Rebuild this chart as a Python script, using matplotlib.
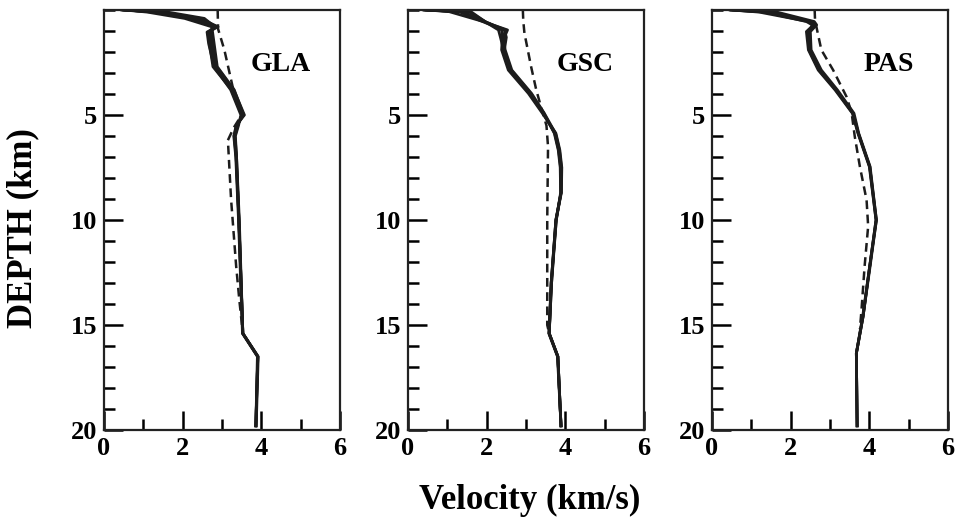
#!/usr/bin/env python
import numpy as np
import matplotlib
matplotlib.use('Agg')
from matplotlib import pyplot as plt
from matplotlib.ticker import MultipleLocator

# ---- GLA ----
gla_depth = [0, 0.1, 0.4, 0.8, 1.05, 1.6, 2.7, 3.8, 5.0, 5.5, 6.0, 7.0, 10.0, 15.4, 16.5, 19.8]
gla_v_a = [0.48, 1.50, 2.35, 2.87, 2.68, 2.72, 2.81, 3.27, 3.54, 3.38, 3.32, 3.36, 3.43, 3.53, 3.91, 3.86]
gla_v_b = [0.45, 1.62, 2.55, 2.82, 2.64, 2.68, 2.77, 3.24, 3.50, 3.40, 3.33, 3.37, 3.43, 3.53, 3.91, 3.86]
gla_v_c = [0.55, 1.25, 2.20, 2.78, 2.72, 2.76, 2.86, 3.30, 3.57, 3.36, 3.30, 3.35, 3.42, 3.52, 3.90, 3.86]
gla_v_d = [0.50, 1.40, 2.45, 2.90, 2.62, 2.66, 2.80, 3.22, 3.48, 3.42, 3.34, 3.37, 3.44, 3.53, 3.92, 3.87]
gla_v_e = [0.52, 1.10, 2.05, 2.74, 2.76, 2.80, 2.88, 3.31, 3.55, 3.37, 3.31, 3.36, 3.43, 3.53, 3.91, 3.86]
gla_start_depth = [0, 0.9, 1.9, 3.65, 5.0, 5.6, 6.2, 9.0, 12.2, 13.8, 15.4]
gla_start_v = [2.89, 2.90, 3.06, 3.27, 3.50, 3.30, 3.15, 3.23, 3.36, 3.44, 3.53]

# ---- GSC ----
gsc_depth = [0, 0.08, 0.63, 0.95, 1.3, 1.9, 2.86, 3.97, 4.9, 5.87, 6.67, 7.5, 8.7, 10.0, 13.0, 15.4, 16.5, 19.8]
gsc_v_a = [0.42, 1.55, 2.03, 2.53, 2.45, 2.41, 2.58, 3.09, 3.43, 3.74, 3.84, 3.89, 3.89, 3.76, 3.64, 3.59, 3.81, 3.89]
gsc_v_b = [0.45, 1.30, 2.00, 2.45, 2.50, 2.45, 2.62, 3.12, 3.45, 3.72, 3.82, 3.87, 3.88, 3.77, 3.65, 3.59, 3.81, 3.89]
gsc_v_c = [0.50, 1.05, 2.06, 2.38, 2.40, 2.38, 2.55, 3.06, 3.41, 3.76, 3.86, 3.91, 3.90, 3.76, 3.64, 3.58, 3.80, 3.89]
gsc_v_d = [0.40, 1.60, 2.02, 2.30, 2.35, 2.43, 2.60, 3.10, 3.44, 3.73, 3.83, 3.88, 3.89, 3.77, 3.64, 3.59, 3.81, 3.89]
gsc_v_e = [0.47, 1.40, 2.05, 2.48, 2.42, 2.47, 2.64, 3.14, 3.46, 3.75, 3.85, 3.90, 3.89, 3.76, 3.65, 3.59, 3.81, 3.89]
gsc_start_depth = [0, 0.5, 1.1, 2.7, 3.8, 4.6, 5.5, 6.5, 10.0, 15.0, 15.4]
gsc_start_v = [2.92, 2.93, 2.96, 3.13, 3.26, 3.38, 3.52, 3.56, 3.54, 3.54, 3.59]

# ---- PAS ----
pas_depth = [0, 0.1, 0.55, 0.71, 1.03, 1.9, 2.86, 3.81, 4.92, 5.87, 7.46, 10.0, 12.2, 14.6, 16.35, 19.8]
pas_v_a = [0.46, 1.50, 2.53, 2.62, 2.45, 2.49, 2.74, 3.16, 3.59, 3.72, 4.01, 4.18, 4.01, 3.84, 3.67, 3.69]
pas_v_b = [0.50, 1.20, 2.45, 2.58, 2.40, 2.45, 2.70, 3.13, 3.57, 3.71, 4.00, 4.17, 4.01, 3.84, 3.67, 3.69]
pas_v_c = [0.55, 1.65, 2.60, 2.66, 2.50, 2.52, 2.78, 3.19, 3.61, 3.73, 4.02, 4.18, 4.02, 3.84, 3.67, 3.69]
pas_v_d = [0.48, 1.35, 2.40, 2.55, 2.47, 2.47, 2.72, 3.15, 3.58, 3.72, 4.01, 4.17, 4.01, 3.83, 3.67, 3.69]
pas_start_depth = [0, 0.5, 1.9, 2.86, 4.13, 4.9, 6.03, 7.46, 9.05, 10.3, 12.2, 14.3, 15.2]
pas_start_v = [2.61, 2.62, 2.78, 3.08, 3.42, 3.55, 3.63, 3.76, 3.93, 3.97, 3.88, 3.80, 3.76]

stations = ['GLA', 'GSC', 'PAS']

panels = [
   (gla_depth, [gla_v_a, gla_v_b, gla_v_c, gla_v_d, gla_v_e], gla_start_depth, gla_start_v),
   (gsc_depth, [gsc_v_a, gsc_v_b, gsc_v_c, gsc_v_d, gsc_v_e], gsc_start_depth, gsc_start_v),
   (pas_depth, [pas_v_a, pas_v_b, pas_v_c, pas_v_d], pas_start_depth, pas_start_v),
]

lefts = [104, 408, 712]


def main():
   plt.rcParams['font.family'] = ['Liberation Serif', 'DejaVu Serif']
   plt.rcParams['font.weight'] = 'bold'

   W, H = 959, 523
   fig = plt.figure(figsize=(W/100., H/100.), dpi=100)

   for i, (depth, models, sdepth, sv) in enumerate(panels):
      ax = fig.add_axes([lefts[i]/W, 1 - 430./H, 236./W, 420./H])
      for v in models:
         ax.plot(v, depth, color='#1c1c1c', lw=2.0, solid_joinstyle='round')
      ax.plot(sv, sdepth, color='#1c1c1c', lw=1.8, linestyle=(0, (3.5, 2.2)))

      ax.set_xlim(0, 6)
      ax.set_ylim(20, 0)
      ax.set_xticks([0, 2, 4, 6])
      ax.xaxis.set_minor_locator(MultipleLocator(1))
      ax.set_yticks([5, 10, 15, 20])
      ax.yaxis.set_minor_locator(MultipleLocator(1))
      ax.tick_params(which='major', direction='in', length=14, width=1.8,
                     labelsize=19, pad=5, top=False, right=False)
      ax.tick_params(which='minor', direction='in', length=8, width=1.8,
                     top=False, right=False)
      for lab in ax.get_xticklabels() + ax.get_yticklabels():
         lab.set_fontweight('bold')
      for sp in ax.spines.values():
         sp.set_linewidth(1.6)
         sp.set_color('#222222')

      ax.text(4.5, 2.6, stations[i], fontsize=20, fontweight='bold',
              ha='center', va='center')

   fig.text(23./W, 1 - 228./H, 'DEPTH (km)', rotation=90, fontsize=25,
            fontweight='bold', ha='center', va='center')
   fig.text(530./W, 1 - 500./H, 'Velocity (km/s)', fontsize=25,
            fontweight='bold', ha='center', va='center')

   plt.savefig('out.png', dpi=100)


if __name__ == "__main__":
   main()
